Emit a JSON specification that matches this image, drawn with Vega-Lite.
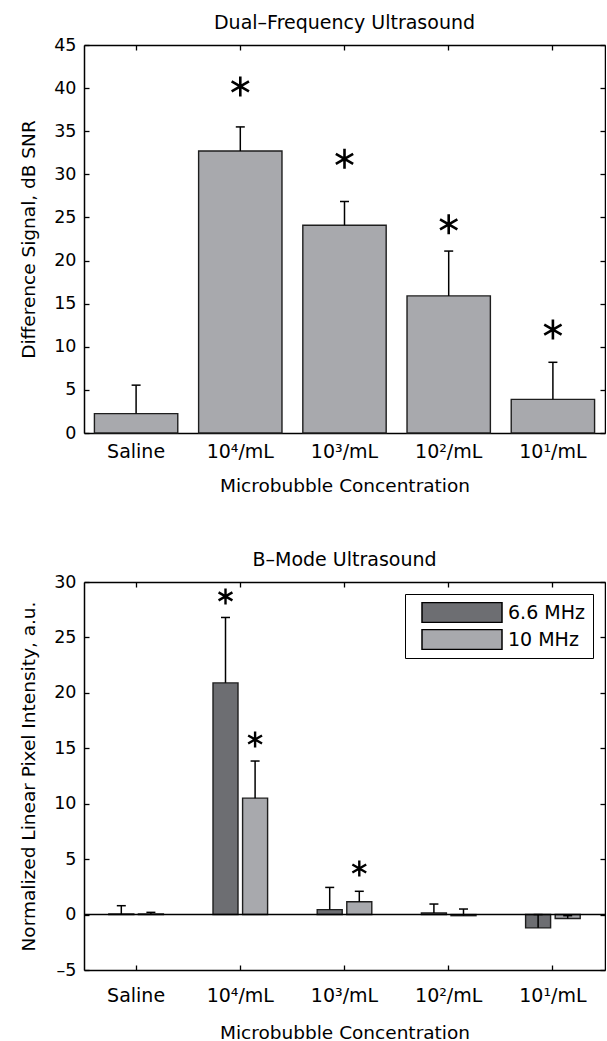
{
  "$schema": "https://vega.github.io/schema/vega-lite/v6.json",
  "background": "white",
  "padding": {"left": 19, "top": 14, "right": 0, "bottom": 0},
  "spacing": 56,
  "resolve": {"legend": {"color": "independent"}},
  "config": {
    "font": "DejaVu Sans",
    "view": {"stroke": null},
    "axis": {
      "domainColor": "#000", "domainWidth": 1.5,
      "tickColor": "#000", "tickWidth": 1.3, "tickSize": -5,
      "labelColor": "#000", "labelFont": "DejaVu Sans", "labelFontSize": 17.5,
      "titleColor": "#000", "titleFont": "DejaVu Sans", "titleFontSize": 18.5, "titleFontWeight": "normal",
      "grid": false
    },
    "title": {"font": "DejaVu Sans", "fontSize": 19, "fontWeight": "normal", "color": "#000", "offset": 3}
  },
  "datasets": {
    "dual": [
      {"conc": "Saline", "value": 2.25, "err": 5.55, "ast": null},
      {"conc": "10⁴/mL", "value": 32.7, "err": 35.5, "ast": 40.2},
      {"conc": "10³/mL", "value": 24.1, "err": 26.85, "ast": 31.8},
      {"conc": "10²/mL", "value": 15.9, "err": 21.1, "ast": 24.2},
      {"conc": "10¹/mL", "value": 3.9, "err": 8.2, "ast": 12.0}
    ],
    "bmode": [
      {"conc": "Saline", "freq": "6.6 MHz", "value": 0.05, "err": 0.8, "ast": null},
      {"conc": "Saline", "freq": "10 MHz", "value": 0.05, "err": 0.2, "ast": null},
      {"conc": "10⁴/mL", "freq": "6.6 MHz", "value": 20.9, "err": 26.8, "ast": 28.7},
      {"conc": "10⁴/mL", "freq": "10 MHz", "value": 10.5, "err": 13.85, "ast": 15.8},
      {"conc": "10³/mL", "freq": "6.6 MHz", "value": 0.45, "err": 2.45, "ast": null},
      {"conc": "10³/mL", "freq": "10 MHz", "value": 1.15, "err": 2.1, "ast": 4.15},
      {"conc": "10²/mL", "freq": "6.6 MHz", "value": 0.15, "err": 0.95, "ast": null},
      {"conc": "10²/mL", "freq": "10 MHz", "value": -0.1, "err": 0.5, "ast": null},
      {"conc": "10¹/mL", "freq": "6.6 MHz", "value": -1.2, "err": 0.0, "ast": null},
      {"conc": "10¹/mL", "freq": "10 MHz", "value": -0.35, "err": -0.1, "ast": null}
    ],
    "zero": [{"v": 0}]
  },
  "vconcat": [
    {
      "width": 521, "height": 388,
      "title": {"text": "Dual–Frequency Ultrasound"},
      "data": {"name": "dual"},
      "layer": [
        {
          "mark": {"type": "bar", "fill": "#a8a9ad", "stroke": "#1e1e1e", "strokeWidth": 1.4},
          "encoding": {
            "x": {"field": "conc", "type": "nominal",
              "sort": ["Saline", "10⁴/mL", "10³/mL", "10²/mL", "10¹/mL"],
              "scale": {"domain": ["Saline", "10⁴/mL", "10³/mL", "10²/mL", "10¹/mL"], "paddingInner": 0.2, "paddingOuter": 0.1},
              "axis": {"orient": "bottom", "title": "Microbubble Concentration", "labelAngle": 0, "labelFontSize": 19, "labelPadding": 14, "titlePadding": 15}},
            "y": {"field": "value", "type": "quantitative",
              "scale": {"domain": [0, 45], "nice": false},
              "axis": {"orient": "left", "values": [0, 5, 10, 15, 20, 25, 30, 35, 40, 45], "title": "Difference Signal, dB SNR", "labelPadding": 13, "titlePadding": 15}}
          }
        },
        {
          "mark": {"type": "rule", "color": "#000", "strokeWidth": 1.5},
          "encoding": {
            "x": {"field": "conc", "type": "nominal", "sort": ["Saline", "10⁴/mL", "10³/mL", "10²/mL", "10¹/mL"],
              "axis": {"orient": "top", "labels": false, "title": null}},
            "y": {"field": "value", "type": "quantitative",
              "axis": {"orient": "right", "labels": false, "title": null, "values": [0, 5, 10, 15, 20, 25, 30, 35, 40, 45]}},
            "y2": {"field": "err"}
          }
        },
        {
          "mark": {"type": "tick", "color": "#000", "size": 9, "thickness": 1.5, "opacity": 1},
          "encoding": {
            "x": {"field": "conc", "type": "nominal", "sort": ["Saline", "10⁴/mL", "10³/mL", "10²/mL", "10¹/mL"], "axis": null},
            "y": {"field": "err", "type": "quantitative", "axis": null}
          }
        },
        {
          "transform": [{"filter": "isValid(datum.ast)"}],
          "mark": {"type": "point", "shape": "M0,-1L0,1M-0.866,-0.5L0.866,0.5M-0.866,0.5L0.866,-0.5", "filled": false, "stroke": "#000", "strokeWidth": 2.6, "size": 400, "opacity": 1},
          "encoding": {
            "x": {"field": "conc", "type": "nominal", "sort": ["Saline", "10⁴/mL", "10³/mL", "10²/mL", "10¹/mL"], "axis": null},
            "y": {"field": "ast", "type": "quantitative", "axis": null}
          }
        }
      ],
      "resolve": {"axis": {"x": "independent", "y": "independent"}}
    },
    {
      "width": 521, "height": 388,
      "title": {"text": "B–Mode Ultrasound"},
      "layer": [
        {
          "data": {"name": "bmode"},
          "mark": {"type": "bar", "stroke": "#1e1e1e", "strokeWidth": 1.4},
          "encoding": {
            "x": {"field": "conc", "type": "nominal",
              "sort": ["Saline", "10⁴/mL", "10³/mL", "10²/mL", "10¹/mL"],
              "scale": {"domain": ["Saline", "10⁴/mL", "10³/mL", "10²/mL", "10¹/mL"], "paddingInner": 0.2, "paddingOuter": 0.1},
              "axis": {"orient": "bottom", "title": "Microbubble Concentration", "labelAngle": 0, "labelFontSize": 19, "labelPadding": 21, "titlePadding": 18}},
            "xOffset": {"field": "freq", "type": "nominal", "sort": ["6.6 MHz", "10 MHz"],
              "scale": {"domain": ["6.6 MHz", "10 MHz"], "paddingInner": 0.155, "paddingOuter": 0.486}},
            "y": {"field": "value", "type": "quantitative",
              "scale": {"domain": [-5, 30], "nice": false},
              "axis": {"orient": "left", "values": [-5, 0, 5, 10, 15, 20, 25, 30], "labelExpr": "replace(datum.label, '−', '–')", "title": "Normalized Linear Pixel Intensity, a.u.", "labelPadding": 13, "titlePadding": 15}},
            "color": {"field": "freq", "type": "nominal", "sort": ["6.6 MHz", "10 MHz"],
              "scale": {"domain": ["6.6 MHz", "10 MHz"], "range": ["#6d6e72", "#a8a9ad"]},
              "legend": {"orient": "top-right", "offset": 12, "title": null, "strokeColor": "#000", "fillColor": "#fff", "padding": 8,
                "symbolType": "M-1,-0.25H1V0.25H-1Z", "symbolSize": 6400, "clipHeight": 21, "symbolStrokeColor": "#000", "symbolStrokeWidth": 1.5, "symbolOpacity": 1,
                "labelFontSize": 19, "labelFont": "DejaVu Sans", "labelColor": "#000", "labelOffset": 5, "rowPadding": 6, "symbolOffset": 8}}
          }
        },
        {
          "data": {"name": "bmode"},
          "mark": {"type": "rule", "color": "#000", "strokeWidth": 1.5},
          "encoding": {
            "x": {"field": "conc", "type": "nominal", "sort": ["Saline", "10⁴/mL", "10³/mL", "10²/mL", "10¹/mL"],
              "axis": {"orient": "top", "labels": false, "title": null}},
            "xOffset": {"field": "freq", "type": "nominal", "sort": ["6.6 MHz", "10 MHz"]},
            "y": {"field": "value", "type": "quantitative",
              "axis": {"orient": "right", "labels": false, "title": null, "values": [-5, 0, 5, 10, 15, 20, 25, 30]}},
            "y2": {"field": "err"}
          }
        },
        {
          "data": {"name": "bmode"},
          "mark": {"type": "tick", "color": "#000", "size": 9, "thickness": 1.5, "opacity": 1},
          "encoding": {
            "x": {"field": "conc", "type": "nominal", "sort": ["Saline", "10⁴/mL", "10³/mL", "10²/mL", "10¹/mL"], "axis": null},
            "xOffset": {"field": "freq", "type": "nominal", "sort": ["6.6 MHz", "10 MHz"]},
            "y": {"field": "err", "type": "quantitative", "axis": null}
          }
        },
        {
          "data": {"name": "zero"},
          "mark": {"type": "rule", "color": "#000", "strokeWidth": 1.5},
          "encoding": {
            "y": {"field": "v", "type": "quantitative", "axis": null}
          }
        },
        {
          "data": {"name": "bmode"},
          "transform": [{"filter": "isValid(datum.ast)"}],
          "mark": {"type": "point", "shape": "M0,-1L0,1M-0.866,-0.5L0.866,0.5M-0.866,0.5L0.866,-0.5", "filled": false, "stroke": "#000", "strokeWidth": 2.4, "size": 256, "opacity": 1},
          "encoding": {
            "x": {"field": "conc", "type": "nominal", "sort": ["Saline", "10⁴/mL", "10³/mL", "10²/mL", "10¹/mL"], "axis": null},
            "xOffset": {"field": "freq", "type": "nominal", "sort": ["6.6 MHz", "10 MHz"]},
            "y": {"field": "ast", "type": "quantitative", "axis": null}
          }
        }
      ],
      "resolve": {"axis": {"x": "independent", "y": "independent"}}
    }
  ]
}
